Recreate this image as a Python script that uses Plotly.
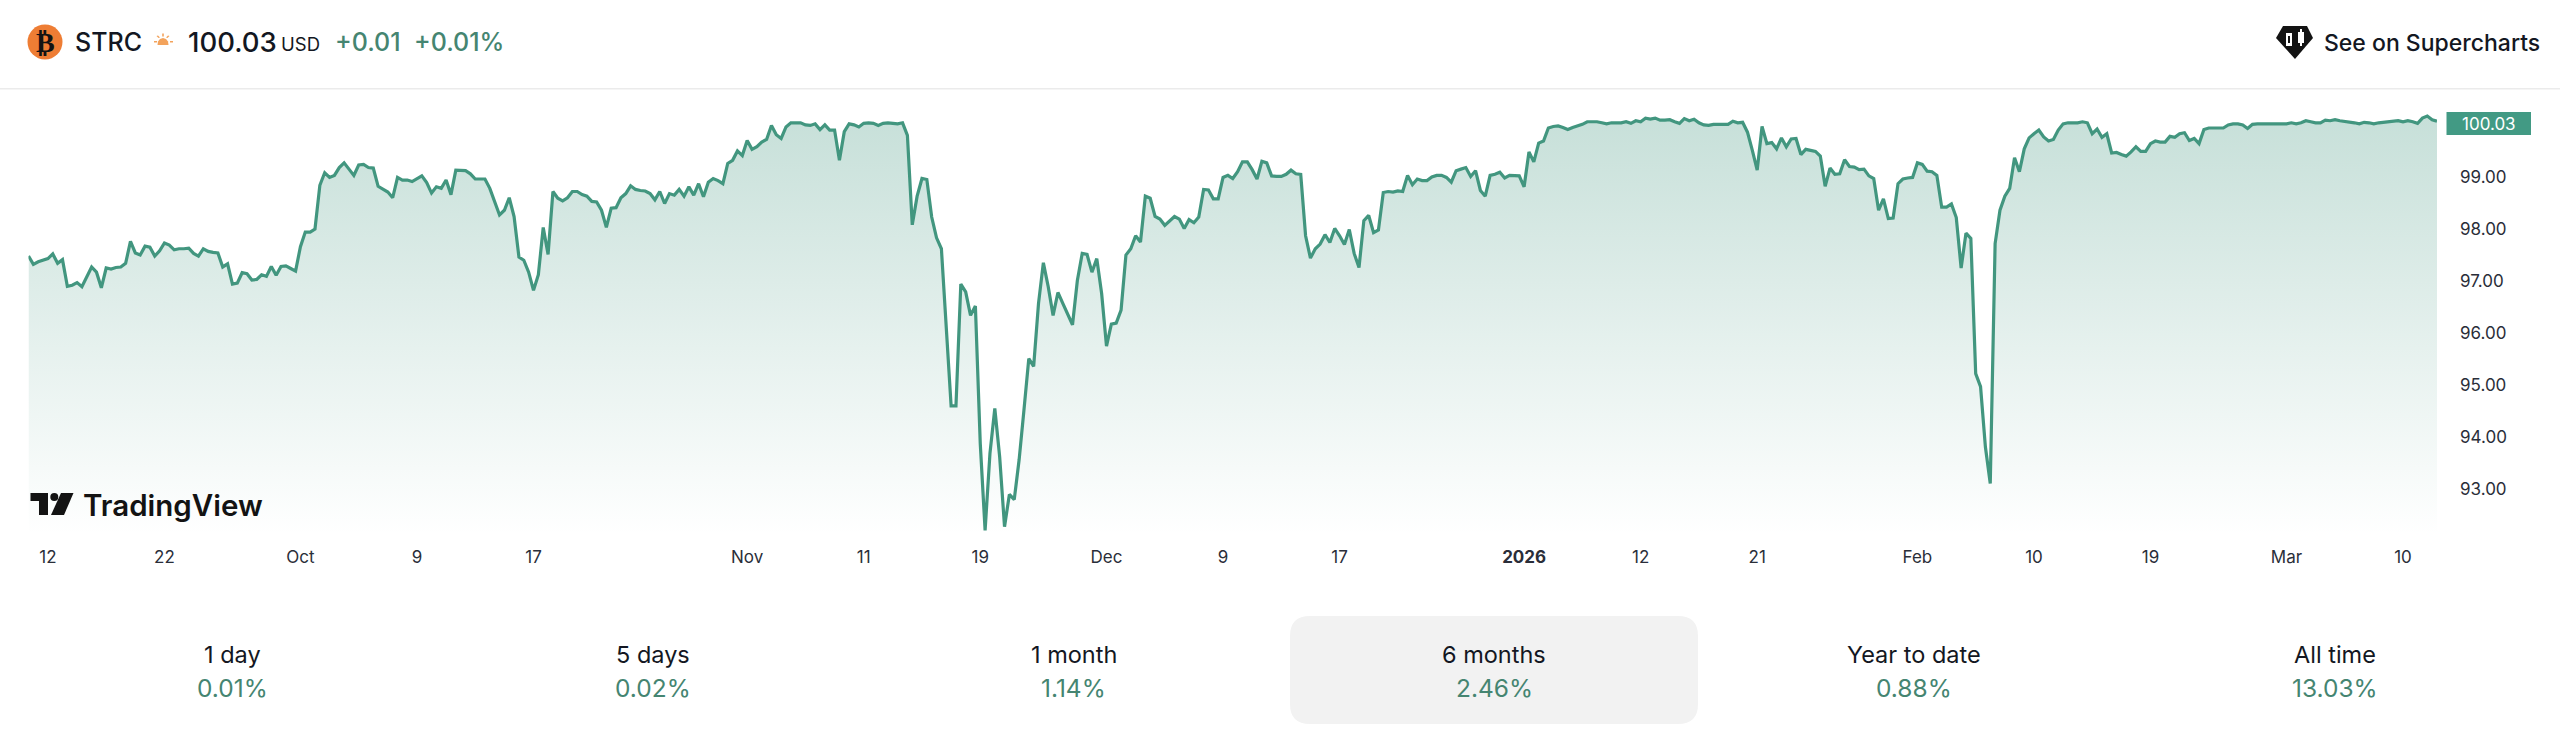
"""STRC six month price card, rebuilt from a TradingView widget screenshot."""

import plotly.graph_objects as go

W = 2560
H = 747

# Bar closes, one list per stretch of the chart.
PRICES_SEP_OCT = [
    97.44, 97.28, 97.33, 97.36, 97.39, 97.48, 97.30, 97.37, 96.86, 96.88, 96.93, 96.85, 97.04, 97.23, 97.13,
    96.83, 97.21, 97.19, 97.22, 97.23, 97.30, 97.72, 97.50, 97.46, 97.63, 97.61, 97.44, 97.54, 97.69, 97.65,
    97.56, 97.58, 97.58, 97.59, 97.49, 97.44, 97.58, 97.53, 97.51, 97.50, 97.23, 97.29, 96.90, 96.92, 97.12,
    97.10, 96.98, 96.99, 97.08, 97.05, 97.24, 97.07, 97.24, 97.25, 97.20, 97.15, 97.62, 97.90, 97.90, 97.96,
    98.80, 99.04, 98.95, 98.99, 99.14, 99.23, 99.11, 98.99, 99.19, 99.20, 99.14, 99.13, 98.78, 98.73, 98.67,
    98.56, 98.95, 98.90, 98.90, 98.87, 98.93, 98.98, 98.85, 98.65, 98.77, 98.74, 98.90, 98.62, 99.09, 99.09,
    99.08, 99.02, 98.92, 98.92, 98.92, 98.74, 98.48, 98.23, 98.32, 98.56, 98.20, 97.42, 97.36, 97.13, 96.78,
    97.08, 97.99, 97.47, 98.68, 98.55, 98.50, 98.56, 98.68, 98.68, 98.62, 98.59, 98.49, 98.48, 98.32, 97.99,
    98.36, 98.37, 98.56, 98.64, 98.79, 98.72,
]
PRICES_NOV_DEC = [
    98.70, 98.69, 98.64, 98.52, 98.68, 98.45, 98.64, 98.61, 98.72, 98.59, 98.77, 98.61, 98.83, 98.58, 98.86,
    98.93, 98.89, 98.83, 99.22, 99.28, 99.46, 99.37, 99.66, 99.49, 99.54, 99.63, 99.68, 99.95, 99.77, 99.70,
    99.92, 100.00, 100.00, 100.00, 99.96, 99.95, 99.98, 99.87, 99.96, 99.86, 99.86, 99.28, 99.83, 99.98, 99.96,
    99.92, 99.99, 100.00, 99.99, 99.95, 99.99, 100.00, 99.99, 99.98, 100.00, 99.76, 98.04, 98.59, 98.93, 98.91,
    98.19, 97.79, 97.58, 96.01, 94.56, 94.56, 96.90, 96.75, 96.30, 96.48, 93.84, 92.17, 93.65, 94.51, 93.58,
    92.24, 92.86, 92.76, 93.52, 94.48, 95.47, 95.32, 96.53, 97.31, 96.85, 96.30, 96.74, 96.53, 96.32, 96.12,
    96.97, 97.49, 97.47, 97.13, 97.39, 96.72, 95.71, 96.13, 96.15, 96.40, 97.46, 97.58, 97.83, 97.71, 98.59,
    98.55, 98.20, 98.15, 98.03, 98.11, 98.20, 98.15, 97.97, 98.14, 98.08, 98.19, 98.72, 98.71, 98.54, 98.54,
    98.95, 98.99, 98.93, 99.06, 99.25, 99.25, 99.10, 98.92, 99.26, 99.23, 98.98, 98.97,
]
PRICES_DEC_FEB = [
    98.97, 99.01, 99.09, 99.02, 99.01, 97.83, 97.40, 97.58, 97.67, 97.85, 97.70, 97.97, 97.83, 97.66, 97.95,
    97.49, 97.22, 98.12, 98.22, 97.89, 97.94, 98.66, 98.68, 98.67, 98.69, 98.68, 98.99, 98.81, 98.92, 98.89,
    98.89, 98.96, 98.99, 98.99, 98.95, 98.86, 99.08, 99.11, 99.14, 98.97, 99.08, 98.70, 98.59, 98.99, 99.01,
    99.05, 98.94, 98.99, 98.99, 98.98, 98.77, 99.44, 99.25, 99.61, 99.65, 99.90, 99.93, 99.94, 99.91, 99.87,
    99.91, 99.94, 99.97, 100.02, 100.02, 100.02, 100.00, 99.98, 100.00, 100.00, 100.00, 100.02, 99.99, 100.04,
    100.02, 100.09, 100.07, 100.09, 100.05, 100.05, 100.06, 100.02, 99.99, 100.08, 100.04, 100.07, 100.00,
    99.96, 99.95, 99.97, 99.97, 99.98, 99.97, 100.03, 100.00, 100.01, 99.82, 99.47, 99.09, 99.93, 99.60, 99.62,
    99.50, 99.71, 99.54, 99.69, 99.70, 99.39, 99.49, 99.47, 99.45, 99.36, 98.78, 99.13, 99.01, 99.02, 99.29,
    99.16, 99.15, 99.10, 99.11, 98.98, 98.93, 98.32, 98.54, 98.16, 98.17, 98.83, 98.92, 98.94, 98.95, 99.23,
]
PRICES_FEB_MAR = [
    99.20, 99.07, 99.06, 98.99, 98.38, 98.38, 98.44, 98.18, 97.21, 97.88, 97.78, 95.18, 94.93, 93.77, 93.07,
    97.68, 98.32, 98.59, 98.74, 99.33, 99.06, 99.50, 99.71, 99.79, 99.86, 99.73, 99.65, 99.68, 99.86, 99.98,
    100.00, 100.00, 100.00, 100.02, 100.00, 99.79, 99.88, 99.72, 99.79, 99.42, 99.43, 99.39, 99.36, 99.44,
    99.54, 99.45, 99.45, 99.60, 99.65, 99.63, 99.63, 99.74, 99.72, 99.79, 99.81, 99.66, 99.70, 99.60, 99.87,
    99.90, 99.90, 99.91, 99.90, 99.96, 99.98, 99.98, 99.96, 99.89, 99.97, 99.98, 99.98, 99.98, 99.98, 99.99,
    99.98, 99.98, 100.00, 99.98, 100.00, 100.04, 100.02, 100.00, 100.00, 100.05, 100.04, 100.06, 100.04,
    100.03, 100.02, 100.00, 99.98, 100.01, 100.00, 99.98, 100.00, 100.01, 100.02, 100.04, 100.04, 100.02,
    100.04, 100.02, 99.99, 100.09, 100.13, 100.06, 100.03,
]
PRICES = PRICES_SEP_OCT + PRICES_NOV_DEC + PRICES_DEC_FEB + PRICES_FEB_MAR

Y_TICKS = [93, 94, 95, 96, 97, 98, 99]
X_TICK_BARS = [4, 28, 56, 80, 104, 148, 172, 196, 222, 246, 270, 308, 332, 356, 389, 413, 437, 465, 489]
X_TICK_TEXT = ["12", "22", "Oct", "9", "17", "Nov", "11", "19", "Dec", "9", "17", "<b>2026</b>", "12", "21", "Feb",
               "10", "19", "Mar", "10"]

PERIODS = ["1 day", "5 days", "1 month", "6 months", "Year to date", "All time"]
PERIOD_CHANGES = ["0.01%", "0.02%", "1.14%", "2.46%", "0.88%", "13.03%"]

INK = "#131722"
LINE_GREEN = "#42967f"
TEXT_GREEN = "#458571"
SUN = "#f3a35c"
FONT = "Inter"


def px(x):
    return x / W


def py(y):
    return 1 - y / H


def label(text, x, y, size, color=INK, weight=400, anchor="left", family=FONT):
    return dict(
        text=text, x=px(x), y=py(y), xref="paper", yref="paper",
        xanchor=anchor, yanchor="middle", showarrow=False, borderpad=0,
        font=dict(family=family, size=size, color=color, weight=weight),
    )


def poly(points, color):
    path = "M " + " L ".join(f"{px(x):.5f},{py(y):.5f}" for x, y in points) + " Z"
    return dict(type="path", path=path, xref="paper", yref="paper", fillcolor=color, line=dict(width=0), layer="above")


def box(x0, y0, x1, y1, color, layer="above"):
    return dict(type="rect", x0=px(x0), x1=px(x1), y0=py(y0), y1=py(y1), xref="paper", yref="paper",
                fillcolor=color, line=dict(width=0), layer=layer)


def circle(cx, cy, r, color):
    return dict(type="circle", x0=px(cx - r), x1=px(cx + r), y0=py(cy - r), y1=py(cy + r), xref="paper",
                yref="paper", fillcolor=color, line=dict(width=0), layer="above")


def rounded(x0, y0, x1, y1, r, color):
    path = (
        f"M {px(x0 + r)},{py(y0)} L {px(x1 - r)},{py(y0)} Q {px(x1)},{py(y0)} {px(x1)},{py(y0 + r)} "
        f"L {px(x1)},{py(y1 - r)} Q {px(x1)},{py(y1)} {px(x1 - r)},{py(y1)} "
        f"L {px(x0 + r)},{py(y1)} Q {px(x0)},{py(y1)} {px(x0)},{py(y1 - r)} "
        f"L {px(x0)},{py(y0 + r)} Q {px(x0)},{py(y0)} {px(x0 + r)},{py(y0)} Z"
    )
    return dict(type="path", path=path, xref="paper", yref="paper", fillcolor=color, line=dict(width=0), layer="below")


y_range = [92.08, 100.64]

fig = go.Figure(
    go.Scatter(
        x=list(range(len(PRICES))),
        y=PRICES,
        mode="lines",
        line=dict(color=LINE_GREEN, width=3.2),
        fill="tozeroy",
        fillgradient=dict(
            type="vertical",
            start=y_range[0],
            stop=100.2,
            colorscale=[[0, "rgba(66,150,127,0)"], [1, "rgba(66,150,127,0.3)"]],
        ),
        hoverinfo="skip",
    )
)

shapes = [
    box(0, 88, W, 89.5, "#ebebeb"),
    rounded(1290, 616, 1698, 724, 20, "#f2f2f2"),
    box(2446.5, 112, 2531, 135, "#429a84"),
    # coin
    circle(45, 42, 17.5, "#ee7d34"),
    # sun marker
    poly([(157.5, 45), (158, 41.5), (160, 39), (163, 38), (166, 39), (168, 41.5), (168.5, 45)], SUN),
    box(154, 41, 157, 42.5, SUN),
    box(170, 41, 173, 42.5, SUN),
    box(162.2, 33.5, 163.8, 36.5, SUN),
    poly([(156.5, 36), (158, 35.5), (160, 37.5), (158.5, 38)], SUN),
    poly([(168, 35.5), (169.5, 36), (167.5, 38), (166, 37.5)], SUN),
    # supercharts mark
    poly([(2283, 26), (2307, 26), (2313, 38), (2295, 59), (2276, 38)], "#131313"),
    box(2286, 33, 2292, 46, "#ffffff"),
    box(2288, 36, 2290, 43, "#131313"),
    box(2298, 32, 2304, 43, "#ffffff"),
    box(2300, 29, 2302, 46, "#ffffff"),
    # tradingview mark
    poly([(30.5, 493), (48, 493), (48, 515), (39, 515), (39, 501), (30.5, 501)], "#131313"),
    circle(54.3, 497, 4, "#131313"),
    poly([(61, 493), (73.5, 493), (64, 515), (51, 515)], "#131313"),
]

annotations = [
    label("₿", 45, 42, 28, color="#131313", weight=700, anchor="center", family="DejaVu Sans"),
    label("STRC", 74, 42, 25, weight=500),
    label("100.03", 187, 42, 27.5, weight=500),
    label("USD", 280, 44, 18.5),
    label("+0.01", 334, 42, 25, color=TEXT_GREEN, weight=500),
    label("+0.01%", 413, 42, 25, color=TEXT_GREEN, weight=500),
    label("See on Supercharts", 2323, 43, 23, weight=500),
    label("TradingView", 82, 505, 29.5, color="#131313", weight=600),
    label("100.03", 2488.5, 123.5, 17, color="#ffffff", anchor="center"),
]

tab_x = [232.5, 653, 1073.5, 1494, 1914, 2335]
for name, change, x in zip(PERIODS, PERIOD_CHANGES, tab_x):
    annotations.append(label(name, x, 654, 23.5, anchor="center"))
    annotations.append(label(change, x, 688, 24.5, color=TEXT_GREEN, anchor="center"))

fig.update_layout(
    width=W,
    height=H,
    autosize=False,
    margin=dict(l=0, r=0, t=0, b=0),
    paper_bgcolor="#ffffff",
    plot_bgcolor="rgba(0,0,0,0)",
    showlegend=False,
    shapes=shapes,
    annotations=annotations,
    font=dict(family=FONT, color="#2a2e39", size=17),
    xaxis=dict(
        domain=[px(28.5), px(2437)],
        range=[0, len(PRICES) - 1],
        tickvals=X_TICK_BARS,
        ticktext=X_TICK_TEXT,
        showgrid=False,
        zeroline=False,
        showline=False,
        ticks="",
        ticklabelstandoff=10,
        tickangle=0,
    ),
    yaxis=dict(
        domain=[py(535), py(89.5)],
        range=y_range,
        side="right",
        tickvals=Y_TICKS,
        tickformat=".2f",
        showgrid=False,
        zeroline=False,
        showline=False,
        ticks="",
        ticklabelstandoff=22,
        ticklabelshift=2,
    ),
)

fig.write_html("out.html", config=dict(displayModeBar=False), post_script="document.body.style.margin='0';")
